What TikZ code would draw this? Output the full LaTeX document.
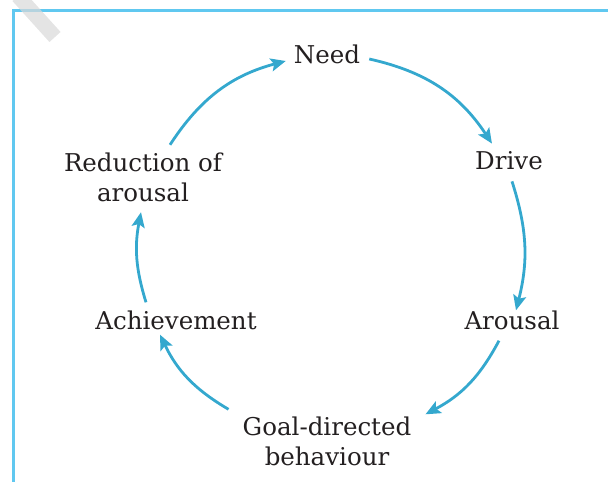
\documentclass[tikz,border=0pt]{standalone}
\usepackage{fontspec}
\setmainfont{DejaVu Serif}
\usetikzlibrary{arrows.meta}
\definecolor{cyclearrow}{RGB}{52,168,206}
\definecolor{frameblue}{RGB}{96,200,240}
\definecolor{labeltext}{RGB}{35,31,32}
\begin{document}
\begin{tikzpicture}[x=1pt,y=1pt,
	stage/.style={inner sep=2pt,
	align=center,
	text=labeltext,
	font=\fontsize{24.5}{30}\selectfont},
	flow/.style={draw=cyclearrow,
	line width=2.8pt,
	-{Stealth[length=15pt,width=13pt,inset=3pt]}}]
	\useasboundingbox (0,0) rectangle (608,482);
	% frame and watermark
	\draw[frameblue, line width=2.5pt] (13.5,0) -- (13.5,471.5) -- (608,471.5);
	\draw[black!15, opacity=0.7, line width=15pt] (18,486) -- (55,445);
	
	\node[stage] (need) at (327,428) {Need};
	\node[stage] (drive) at (509,321) {Drive};
	\node[stage] (arousal) at (512,162) {Arousal};
	\node[stage] (goal) at (327,41) {Goal-directed\\behaviour};
	\node[stage] (achievement) at (176,162) {Achievement};
	\node[stage] (reduction) at (143,304.5) {Reduction of\\arousal};
	
	\draw[flow] ([shift={(7,-5)}]need.east) to[bend left=22] ([shift={(-17,6)}]drive.north);
	\draw[flow] ([shift={(3,-9)}]drive.south) to[bend left=16] ([shift={(4,-2)}]arousal.north);
	\draw[flow] ([shift={(-13,-9)}]arousal.south) to[bend left=17] ([shift={(12,0)}]goal.north east);
	\draw[flow] ([shift={(-12,5)}]goal.north west) to[bend left=17] ([shift={(-16,-3)}]achievement.south);
	\draw[flow] ([shift={(-30,6)}]achievement.north) to[bend left=14] ([shift={(-2,-8)}]reduction.south);
	\draw[flow] ([shift={(27,6)}]reduction.north) to[bend left=21] ([shift={(-6,-7)}]need.west);
	
\end{tikzpicture}
\end{document}
